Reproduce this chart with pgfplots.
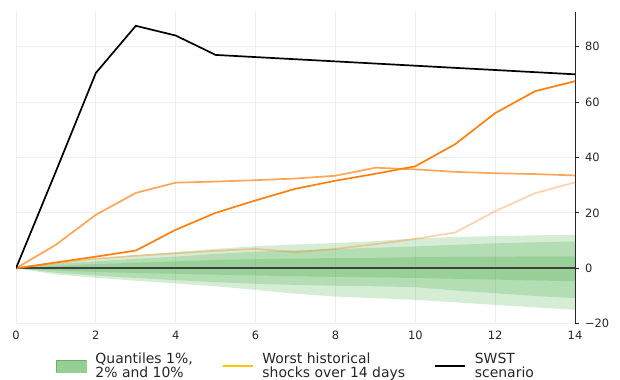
\documentclass[border=0pt]{standalone}
\usepackage{fontspec}
\setmainfont{DejaVu Sans}
\usepackage{pgfplots}
\usepackage{pgfplotstable}
\pgfplotsset{compat=1.18}
\usepgfplotslibrary{fillbetween}

\definecolor{qgreen}{RGB}{44,160,44}
\definecolor{shockorange}{RGB}{255,127,14}
\definecolor{legendgold}{RGB}{255,196,0}
\definecolor{gridgray}{RGB}{238,238,238}
\definecolor{labelgray}{RGB}{38,38,38}

\pgfplotsset{
  patchlegend/.style={legend image code/.code={\draw[##1] (0bp,-6bp) rectangle (30bp,6bp);}},
  linelegend/.style={legend image code/.code={\draw[##1] (0bp,0bp) -- (30bp,0bp);}},
}

% simulated quantile paths (lower and upper tails)
\pgfplotstableread{
day  q01    q02    q10   q90  q98  q99
0    0      0      0     0    0    0
1   -2.2   -1.6   -0.8   0.9  1.6  2.2
2   -3.4   -2.6   -1.3   1.5  2.5  3.5
3   -4.5   -3.5   -1.7   2.0  3.4  4.8
4   -5.5   -4.3   -2.0   2.5  4.2  5.9
5   -6.5   -5.0   -2.3   3.0  5.2  7.0
6   -7.8   -5.6   -2.6   3.3  6.0  8.0
7   -9.2   -6.0   -2.9   3.5  6.5  8.6
8   -10.2  -6.3   -3.1   3.7  7.0  9.1
9   -10.8  -6.5   -3.3   3.8  7.4  9.8
10  -11.4  -6.8   -3.5   4.0  7.9  10.8
11  -12.3  -8.0   -3.8   4.1  8.5  11.3
12  -13.2  -9.0   -4.1   4.2  9.0  11.6
13  -14.1  -10.0  -4.4   4.3  9.4  11.9
14  -15.0  -10.8  -4.7   4.3  9.7  12.1
}\quantiles

% worst historical shocks over 14 days
\pgfplotstableread{
day  pale  mid   strong
0    0     0     0
1    1.8   8.5   2.1
2    3.5   19.3  4.2
3    4.5   27.2  6.4
4    5.4   30.9  13.9
5    6.3   31.3  20.0
6    7.0   31.8  24.5
7    5.8   32.4  28.7
8    7.0   33.4  31.6
9    8.7   36.3  34.1
10   10.6  35.7  36.8
11   12.9  34.8  44.8
12   20.6  34.3  56.0
13   27.1  34.0  63.9
14   31.0  33.5  67.5
}\shocks

% SWST scenario
\pgfplotstableread{
day  swst
0    0
1    35
2    70.5
3    87.5
4    84
5    77
14   70
}\swst

\begin{document}
\begin{tikzpicture}
\begin{axis}[
  scale only axis, width=559bp, height=312bp,
  xmin=0, xmax=14, ymin=-20, ymax=92.6,
  axis x line*=bottom, axis y line*=right,
  x axis line style={draw=none},
  y axis line style={labelgray, line width=0.9bp},
  xtick={0,2,...,14}, ytick={-20,0,20,40,60,80},
  yticklabels={−20,0,20,40,60,80},
  xtick style={draw=none},
  ytick style={labelgray, line width=0.9bp},
  tick align=outside, major tick length=4bp,
  grid=major, major grid style={gridgray, line width=0.8bp},
  ticklabel style={font=\fontsize{11.5}{13}\selectfont, text=labelgray},
  yticklabel style={xshift=2.5bp},
  /pgf/number format/assume math mode=true,
  legend columns=3,
  legend style={draw=none, fill=none, at={(0.5,-0.135)}, anchor=center,
    font=\fontsize{14}{14.5}\selectfont, text=labelgray, cells={align=left},
    inner sep=0pt, nodes={inner sep=1bp},
    /tikz/every odd column/.append style={column sep=8bp},
    /tikz/every even column/.append style={column sep=28bp}},
]
% quantile bands
\addplot[name path=q99, draw=none, forget plot] table[x=day, y=q99] {\quantiles};
\addplot[name path=q01, draw=none, forget plot] table[x=day, y=q01] {\quantiles};
\addplot[name path=q98, draw=none, forget plot] table[x=day, y=q98] {\quantiles};
\addplot[name path=q02, draw=none, forget plot] table[x=day, y=q02] {\quantiles};
\addplot[name path=q90, draw=none, forget plot] table[x=day, y=q90] {\quantiles};
\addplot[name path=q10, draw=none, forget plot] table[x=day, y=q10] {\quantiles};
\addplot[fill=qgreen, fill opacity=0.2, forget plot] fill between[of=q99 and q01];
\addplot[fill=qgreen, fill opacity=0.2, forget plot] fill between[of=q98 and q02];
\addplot[fill=qgreen, fill opacity=0.2, forget plot] fill between[of=q90 and q10];
% median path
\addplot[black!75, line width=1.7bp, forget plot] coordinates {(0,0) (14,0)};
% historical shocks
\addplot[shockorange, draw opacity=0.35, line width=1.7bp, forget plot] table[x=day, y=pale] {\shocks};
\addplot[shockorange, draw opacity=0.7, line width=1.7bp, forget plot] table[x=day, y=mid] {\shocks};
\addplot[shockorange, line width=1.7bp, forget plot] table[x=day, y=strong] {\shocks};
% SWST scenario
\addplot[black, line width=1.7bp, forget plot] table[x=day, y=swst] {\swst};

\addlegendimage{patchlegend, fill=qgreen, draw=qgreen, fill opacity=0.5, draw opacity=0.5}
\addlegendentry{Quantiles 1\%,\\2\% and 10\%}
\addlegendimage{linelegend, legendgold, line width=1.7bp}
\addlegendentry{Worst historical\\shocks over 14 days}
\addlegendimage{linelegend, black, line width=1.7bp}
\addlegendentry{SWST\\scenario}
\end{axis}
\pgfresetboundingbox
\path (current axis.south west) ++(-16bp,-56.3bp) coordinate (bl);
\path (current axis.north east) ++(45bp,11.7bp) coordinate (tr);
\useasboundingbox (bl) rectangle (tr);
\end{tikzpicture}
\end{document}
